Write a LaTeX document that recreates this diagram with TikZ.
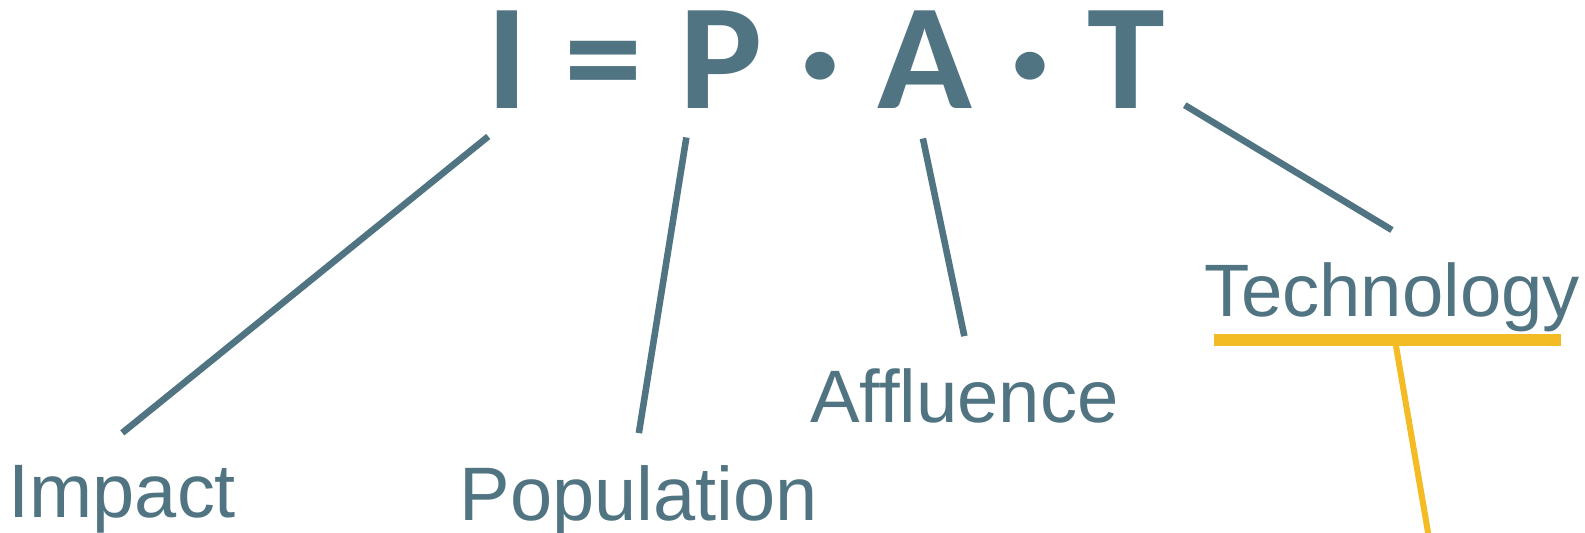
\documentclass[tikz,border=0pt]{standalone}
\usepackage{fontspec}
\setmainfont{Liberation Sans}
\newfontfamily\formulafont[FakeStretch=1.04, LetterSpace=0.7]{Carlito}
\usetikzlibrary{positioning}

\definecolor{slate}{RGB}{81,116,130}
\definecolor{amber}{RGB}{244,188,36}

\tikzset{
  formula/.style={text=slate, inner sep=0pt, anchor=base,
    font=\formulafont\bfseries\fontsize{149}{150}\selectfont},
  term/.style={text=slate, inner xsep=0pt, inner ysep=32pt, anchor=base},
  stem/.style={draw=slate, line width=6.5pt},
  bar/.style={fill=amber, inner sep=0pt, minimum width=343pt, minimum height=12pt},
  tail/.style={draw=amber, line width=6pt}
}

\begin{document}
\begin{tikzpicture}[x=1pt,y=-1pt]
  \useasboundingbox (0,0) rectangle (1568,527);

  % the equation
  \node[formula] (ipat) at (817,107) {I = P · A · T};

  % the four factors
  \node[term, font=\fontsize{75}{80}\selectfont] (impact) at (121,512) {Impact};
  \node[term, font=\fontsize{75}{80}\selectfont] (population) at (632,515) {Population};
  \node[term, font=\fontsize{73.5}{80}\selectfont] (affluence) at (954,418) {Affluence};
  \node[term, font=\fontsize{73.5}{80}\selectfont] (technology) at (1377,313) {Technology};

  % where the strokes leave the letters
  \coordinate (i-foot) at (483,135);
  \coordinate (p-foot) at (679,136);
  \coordinate (a-foot) at (913,137);
  \coordinate (t-side) at (1172,104);

  \draw[stem] (i-foot) -- (impact.north);
  \draw[stem] (p-foot) -- (population.north);
  \draw[stem] (a-foot) -- (affluence.north);
  \draw[stem] (t-side) -- (technology.north);

  % underline and the stroke running off the page
  \node[bar] (underline) at (1372.5,336) {};
  \coordinate (drop) at (1415,540);
  \draw[tail] ([xshift=8.5pt]underline.south) -- (drop);
\end{tikzpicture}
\end{document}
